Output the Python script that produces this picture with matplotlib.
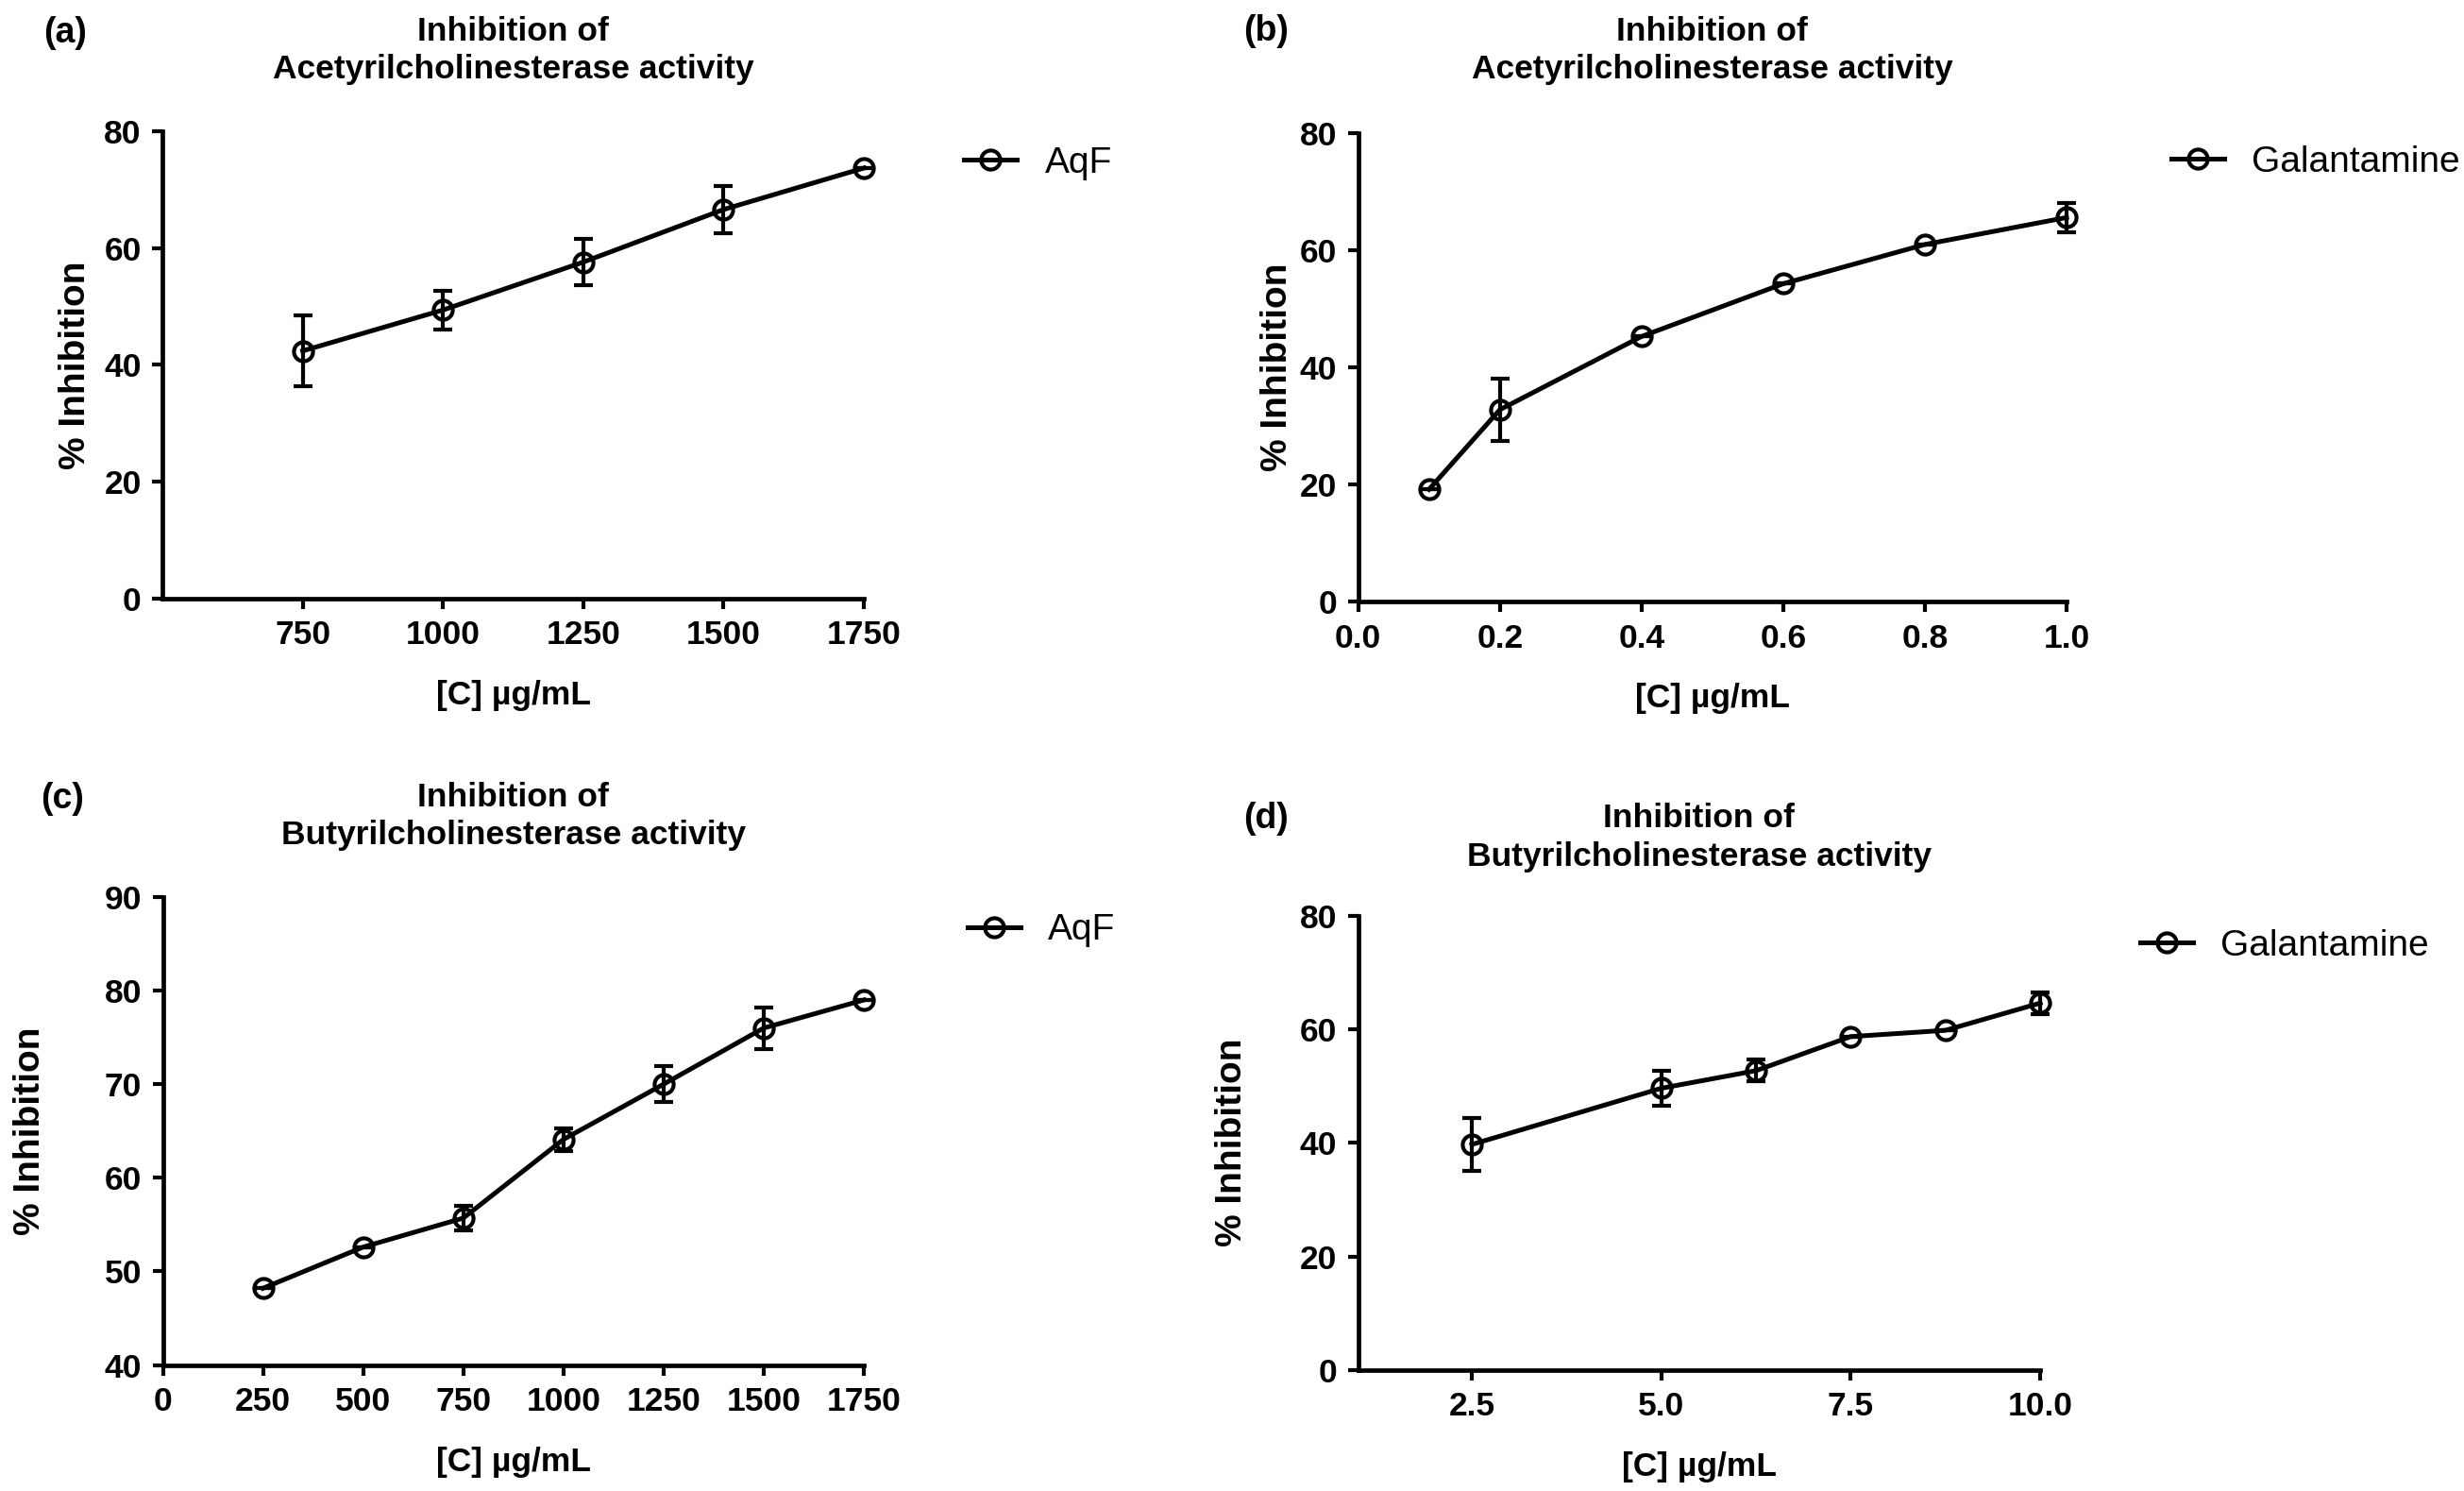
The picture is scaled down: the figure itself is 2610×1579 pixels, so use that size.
#######################################
# 1. modules
#######################################
import matplotlib

matplotlib.use("Agg")
import matplotlib.pyplot as plt

#######################################
# 2. settings / data
#######################################
OUT_FILE = "out.png"
FONT = "Liberation Sans"
plt.rcParams["font.family"] = [FONT, "DejaVu Sans"]

# (a) AqF - acetylcholinesterase
A_X = [750, 1000, 1250, 1500, 1750]
A_Y = [42.4, 49.4, 57.6, 66.6, 73.7]
A_ERR = [6.1, 3.3, 4.0, 4.0, 0.0]
A_XTICKS = [750, 1000, 1250, 1500, 1750]
A_YTICKS = [0, 20, 40, 60, 80]

# (b) Galantamine - acetylcholinesterase
B_X = [0.1, 0.2, 0.4, 0.6, 0.8, 1.0]
B_Y = [19.2, 32.8, 45.3, 54.3, 61.0, 65.6]
B_ERR = [0.0, 5.3, 0.0, 0.0, 0.0, 2.5]
B_XTICKS = [0.0, 0.2, 0.4, 0.6, 0.8, 1.0]
B_YTICKS = [0, 20, 40, 60, 80]

# (c) AqF - butyrylcholinesterase
C_X = [250, 500, 750, 1000, 1250, 1500, 1750]
C_Y = [48.2, 52.6, 55.7, 64.1, 70.0, 76.0, 79.0]
C_ERR = [0.0, 0.0, 1.3, 1.2, 1.9, 2.2, 0.0]
C_XTICKS = [0, 250, 500, 750, 1000, 1250, 1500, 1750]
C_YTICKS = [40, 50, 60, 70, 80, 90]

# (d) Galantamine - butyrylcholinesterase
D_X = [2.5, 5.0, 6.25, 7.5, 8.75, 10.0]
D_Y = [39.7, 49.6, 52.7, 58.7, 59.8, 64.6]
D_ERR = [4.6, 3.1, 1.9, 0.0, 0.0, 1.9]
D_XTICKS = [2.5, 5.0, 7.5, 10.0]
D_YTICKS = [0, 20, 40, 60, 80]

TITLE_ACHE = "Inhibition of\nAcetyrilcholinesterase activity"
TITLE_BCHE = "Inhibition of\nButyrilcholinesterase activity"
XLABEL = "[C] µg/mL"
YLABEL = "% Inhibition"

PANELS = [
    dict(tag="(a)", x=A_X, y=A_Y, err=A_ERR, xticks=A_XTICKS, yticks=A_YTICKS,
         xlim=(500, 1750), fmt="{:.0f}", title=TITLE_ACHE, label="AqF",
         rect=[0.0659, 0.5985, 0.2847, 0.3135], tagpos=(0.0176, 0.9778),
         pad=40, leg=(1.143, 0.931), ylab=-0.100),
    dict(tag="(b)", x=B_X, y=B_Y, err=B_ERR, xticks=B_XTICKS, yticks=B_YTICKS,
         xlim=(0.0, 1.0), fmt="{:.1f}", title=TITLE_ACHE, label="Galantamine",
         rect=[0.5512, 0.5963, 0.2875, 0.3144], tagpos=(0.5046, 0.979),
         pad=41.5, leg=(1.148, 0.9376), ylab=-0.090),
    dict(tag="(c)", x=C_X, y=C_Y, err=C_ERR, xticks=C_XTICKS, yticks=C_YTICKS,
         xlim=(0, 1750), fmt="{:.0f}", title=TITLE_BCHE, label="AqF",
         rect=[0.0661, 0.0845, 0.2845, 0.3139], tagpos=(0.0165, 0.4642),
         pad=40, leg=(1.148, 0.929), ylab=-0.165),
    dict(tag="(d)", x=D_X, y=D_Y, err=D_ERR, xticks=D_XTICKS, yticks=D_YTICKS,
         xlim=(1.0, 10.0), fmt="{:.1f}", title=TITLE_BCHE, label="Galantamine",
         rect=[0.5512, 0.0812, 0.2768, 0.3047], tagpos=(0.5046, 0.451),
         pad=38, leg=(1.147, 0.933), ylab=-0.160),
]


#######################################
# 3. helpers
#######################################
def draw_panel(fig, p):
    ax = fig.add_axes(p["rect"])

    ax.errorbar(p["x"], p["y"], yerr=p["err"], fmt="none", ecolor="black",
                elinewidth=3, capsize=7.5, capthick=3, clip_on=False, zorder=3)
    ax.plot(p["x"], p["y"], "-o", color="black", lw=3.6, ms=14.5, mew=3,
            mfc="none", mec="black", label=p["label"], clip_on=False, zorder=4)

    ax.set_xlim(*p["xlim"])
    ax.set_ylim(p["yticks"][0], p["yticks"][-1])
    ax.set_xticks(p["xticks"], labels=[p["fmt"].format(v) for v in p["xticks"]],
                  fontweight="bold")
    ax.set_yticks(p["yticks"], labels=[str(v) for v in p["yticks"]],
                  fontweight="bold")
    ax.tick_params(direction="out", length=8, width=3, pad=8, labelsize=25.5)

    for side in ("top", "right"):
        ax.spines[side].set_visible(False)
    for side in ("left", "bottom"):
        ax.spines[side].set_linewidth(3.4)

    ax.set_title(p["title"], fontsize=25.5, fontweight="bold", pad=p["pad"],
                 linespacing=1.3)
    ax.set_xlabel(XLABEL, fontsize=25.5, fontweight="bold")
    ax.xaxis.set_label_coords(0.5, -86 / (p["rect"][3] * 1579), transform=ax.transAxes)
    ax.xaxis.label.set_verticalalignment("top")
    ax.set_ylabel(YLABEL, fontsize=28, fontweight="bold")
    ax.yaxis.set_label_coords(p["ylab"], 0.5)

    ax.legend(loc="center left", bbox_to_anchor=p["leg"], frameon=False,
              fontsize=28, handlelength=1.44, handletextpad=0.75,
              borderpad=0, borderaxespad=0, numpoints=1)

    fig.text(p["tagpos"][0], p["tagpos"][1], p["tag"], fontsize=27,
             fontweight="bold", ha="left", va="center")


#######################################
# 4. main
#######################################
def main():
    fig = plt.figure(figsize=(26.10, 15.79), dpi=100)
    for p in PANELS:
        draw_panel(fig, p)
    fig.savefig(OUT_FILE, dpi=100, facecolor="white")


#######################################
# 5. run
#######################################
if __name__ == "__main__":
    main()
